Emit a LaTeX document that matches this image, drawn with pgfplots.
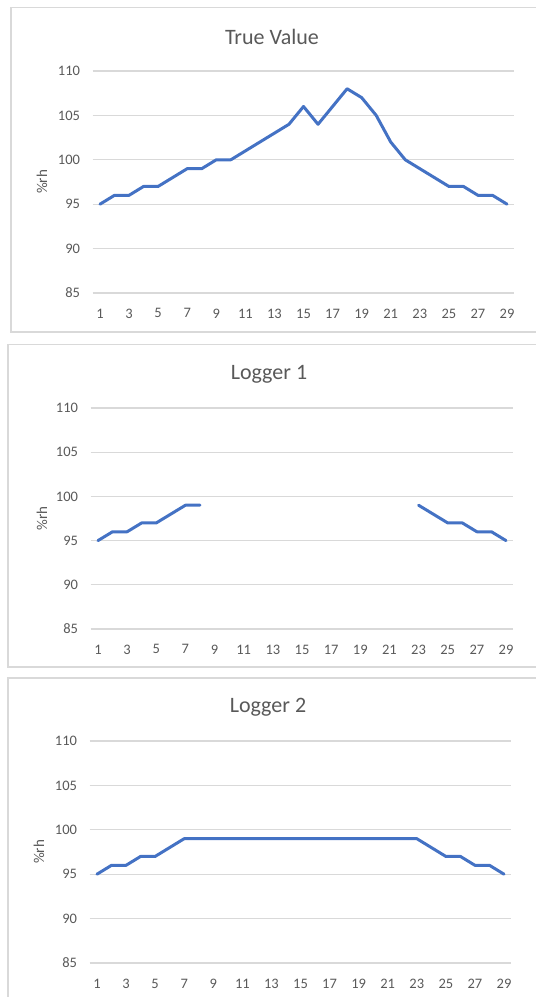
\documentclass[border=0pt]{standalone}
\usepackage{fontspec}
\setmainfont{Carlito}
\usepackage{pgfplots}
\pgfplotsset{compat=1.18}
\definecolor{xlblue}{HTML}{4472C4}
\definecolor{xlgrid}{HTML}{D9D9D9}
\definecolor{xltext}{HTML}{595959}
\pgfplotsset{
  panel/.style={
    scale only axis,
    anchor=south west,
    xmin=0.5, xmax=29.5,
    ymin=85, ymax=110,
    xtick={1,3,...,29},
    ytick={85,90,...,110},
    ymajorgrids,
    grid style={color=xlgrid, line width=1.3bp},
    axis line style={draw=none},
    major tick length=0pt,
    tick label style={font=\fontsize{14.5bp}{16bp}\selectfont, text=xltext},
    /pgf/number format/assume math mode=true,
    yticklabel style={inner sep=0pt, xshift=-12.5bp},
    xticklabel style={inner sep=0pt, yshift=-15.5bp},
    label style={font=\fontsize{15bp}{16bp}\selectfont, text=xltext},
    ylabel={\%rh},
    ylabel style={anchor=center},
    clip=false,
    unbounded coords=jump,
  },
  series/.style={color=xlblue, line width=3bp, line join=round, line cap=round, mark=none},
}
\begin{document}
\begin{tikzpicture}
\path[use as bounding box] (0bp,0bp) rectangle (536bp,997bp);
% chart frames
\draw[xlgrid, line width=1.3bp] (536bp,989.5bp) -- (11bp,989.5bp) -- (11bp,665bp) -- (536bp,665bp);
\draw[xlgrid, line width=1.3bp] (536bp,652.5bp) -- (8bp,652.5bp) -- (8bp,330bp) -- (536bp,330bp);
\draw[xlgrid, line width=1.3bp] (536bp,319bp) -- (8bp,319bp) -- (8bp,0bp);
% titles
\node[text=xltext, font=\fontsize{22bp}{26bp}\selectfont] at (272bp,960bp) {True Value};
\node[text=xltext, font=\fontsize{22bp}{26bp}\selectfont] at (269bp,623bp) {Logger 1};
\node[text=xltext, font=\fontsize{22bp}{26bp}\selectfont] at (268bp,290bp) {Logger 2};

\begin{axis}[panel, at={(92.7bp,704bp)}, width=421.6bp, height=222bp,
  ylabel style={at={(axis description cs:-0.1203,0.5)}}]
\addplot[series] coordinates {
(1,95) (2,96) (3,96) (4,97) (5,97) (6,98) (7,99) (8,99) (9,100) (10,100)
(11,101) (12,102) (13,103) (14,104) (15,106) (16,104) (17,106) (18,108) (19,107) (20,105)
(21,102) (22,100) (23,99) (24,98) (25,97) (26,97) (27,96) (28,96) (29,95)};
\end{axis}

\begin{axis}[panel, at={(90.7bp,368bp)}, width=422.6bp, height=221bp,
  ylabel style={at={(axis description cs:-0.1152,0.5)}}]
\addplot[series] coordinates {
(1,95) (2,96) (3,96) (4,97) (5,97) (6,98) (7,99) (8,99) (9,nan) (10,nan)
(11,nan) (12,nan) (13,nan) (14,nan) (15,nan) (16,nan) (17,nan) (18,nan) (19,nan) (20,nan)
(21,nan) (22,nan) (23,99) (24,98) (25,97) (26,97) (27,96) (28,96) (29,95)};
\end{axis}

\begin{axis}[panel, at={(89.7bp,34bp)}, width=421.6bp, height=222bp,
  ylabel style={at={(axis description cs:-0.1202,0.5)}}]
\addplot[series] coordinates {
(1,95) (2,96) (3,96) (4,97) (5,97) (6,98) (7,99) (8,99) (9,99) (10,99)
(11,99) (12,99) (13,99) (14,99) (15,99) (16,99) (17,99) (18,99) (19,99) (20,99)
(21,99) (22,99) (23,99) (24,98) (25,97) (26,97) (27,96) (28,96) (29,95)};
\end{axis}
\end{tikzpicture}
\end{document}
